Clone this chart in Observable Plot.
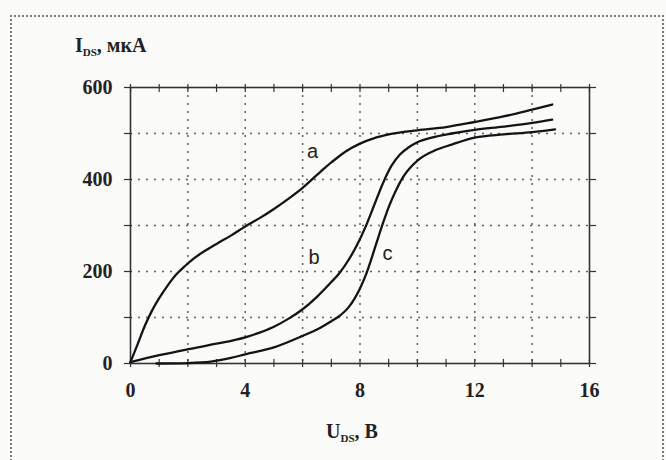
<!DOCTYPE html>
<html><head><meta charset="utf-8">
<script src="https://cdn.jsdelivr.net/npm/d3@7"></script>
<script src="https://cdn.jsdelivr.net/npm/@observablehq/plot@0.6"></script>
<style>
html,body{margin:0;padding:0;background:#fbfbfa;overflow:hidden;width:666px;height:460px;}
#wrap{position:relative;width:666px;height:460px;}
#border{position:absolute;left:10px;top:15px;width:650px;height:500px;border-top:2px dotted #7a7a7a;border-left:2px dotted #7a7a7a;border-right:2px dotted #7a7a7a;}
#chart{position:absolute;left:0;top:0;}
.ttl{position:absolute;font-family:'Liberation Serif',serif;font-weight:bold;font-size:20px;color:#222;line-height:20px;white-space:nowrap;}
.ttl sub{font-size:11px;vertical-align:-4px;font-weight:bold;}
</style></head>
<body><div id="wrap"><div id="border"></div><div id="chart"></div>
<div class="ttl" style="left:75px;top:35px;">I<sub>DS</sub>, мкА</div>
<div class="ttl" style="left:326px;top:421px;">U<sub>DS</sub>, В</div>
</div>
<script>
// Curve a
const xA = [0, 0.25, 0.5, 0.75, 1.0, 1.3, 1.6, 1.9, 2.2, 2.6, 3, 3.5, 4, 4.5, 5, 5.5, 6, 6.5, 7, 7.5, 8, 8.5, 9, 10, 11, 12, 13, 14, 14.7];
const yA = [3, 42, 82, 115, 142, 170, 194, 212, 228, 245, 260, 278, 298, 316, 336, 358, 382, 410, 437, 461, 478, 490, 498, 507, 514, 525, 537, 552, 563];
// Curve b
const xB = [0, 1, 2, 3, 4, 5, 5.5, 6, 6.5, 7, 7.3, 7.6, 7.9, 8.2, 8.5, 8.8, 9.1, 9.4, 9.7, 10, 10.5, 11.2, 12, 13, 14, 14.7];
const yB = [3, 18, 31, 43, 57, 80, 97, 118, 145, 177, 198, 225, 258, 298, 345, 392, 430, 455, 470, 481, 491, 500, 508, 515, 523, 530];
// Curve c
const xC = [0.9, 2, 2.8, 3.5, 4, 5, 6, 6.5, 7, 7.3, 7.6, 7.8, 8.0, 8.2, 8.4, 8.6, 8.8, 9.0, 9.2, 9.5, 10, 10.6, 11.2, 12, 13, 14, 14.8];
const yC = [0, 1, 4, 12, 20, 35, 60, 74, 92, 104, 122, 140, 163, 192, 228, 267, 305, 340, 369, 405, 441, 463, 476, 491, 498, 503, 509];

const xMinor = d3.range(0, 17, 1);
const xGrid = [2, 4, 6, 8, 10, 12, 14];
const xLabels = [0, 4, 8, 12, 16];
const yMinor = [0, 100, 200, 300, 400, 500, 600];
const yGrid = [100, 200, 300, 400, 500];
const yLabels = [0, 200, 400, 600];

const labelNames = ["a", "b", "c"];
const labelX = [6.35, 6.4, 8.96];
const labelY = [460, 231, 238];

const toRows = (xs, ys) => xs.map((x, i) => ({x, y: ys[i]}));
const labels = labelNames.map((t, i) => ({t, x: labelX[i], y: labelY[i]}));

const lineOpts = {x: "x", y: "y", curve: "monotone-x", stroke: "#141414", strokeWidth: 2.3};

const plot = Plot.plot({
  width: 666, height: 460,
  marginLeft: 130, marginRight: 77, marginTop: 87, marginBottom: 97,
  style: {background: "transparent", fontFamily: "'Liberation Serif', serif", color: "#222"},
  x: {domain: [0, 16]},
  y: {domain: [0, 600]},
  marks: [
    Plot.gridX(xGrid, {stroke: "#444", strokeOpacity: 0.85, strokeDasharray: "2,6", strokeWidth: 1.5}),
    Plot.gridY(yGrid, {stroke: "#444", strokeOpacity: 0.85, strokeDasharray: "2,6", strokeWidth: 1.5}),
    Plot.frame({stroke: "#333", strokeWidth: 1.6}),
    Plot.axisX(xMinor, {anchor: "bottom", tickSize: 8, dy: -4, text: null, label: null, stroke: "#333", strokeWidth: 1.2}),
    Plot.axisX(xMinor, {anchor: "top", tickSize: 8, dy: 4, text: null, label: null, stroke: "#333", strokeWidth: 1.2}),
    Plot.axisX(xLabels, {anchor: "bottom", tickSize: 0, tickPadding: 19, fontSize: 20, fontWeight: "bold", label: null}),
    Plot.axisY(yMinor, {anchor: "left", tickSize: 8, dx: 2, text: null, label: null, stroke: "#333", strokeWidth: 1.2}),
    Plot.axisY(yLabels, {anchor: "left", tickSize: 0, tickPadding: 18, fontSize: 20, fontWeight: "bold", label: null}),
    Plot.axisY(yMinor, {anchor: "right", tickSize: 6, text: null, label: null, stroke: "#333", strokeWidth: 1.2}),
    Plot.line(toRows(xA, yA), lineOpts),
    Plot.line(toRows(xB, yB), lineOpts),
    Plot.line(toRows(xC, yC), lineOpts),
    Plot.text(labels, {x: "x", y: "y", text: "t", fontFamily: "'Liberation Sans', Arial, sans-serif", fontSize: 20, fill: "#222"})
  ]
});
document.getElementById("chart").appendChild(plot);
</script>
</body></html>
